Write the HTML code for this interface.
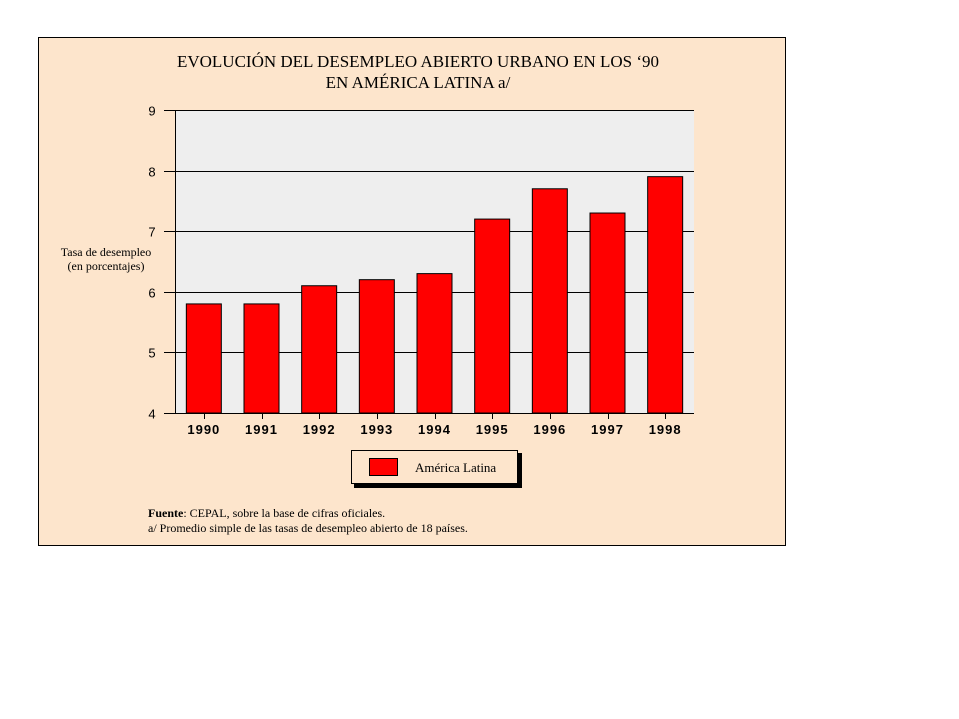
<!DOCTYPE html>
<html><head><meta charset="utf-8"><style>
body{margin:0;background:#fff;width:959px;height:719px;overflow:hidden}
svg{display:block}
</style></head><body>
<svg width="959" height="719" xmlns="http://www.w3.org/2000/svg">
<rect x="38.5" y="37.5" width="747" height="508" fill="#fde5cc" stroke="#000"/>
<text x="418" y="67" font-family="Liberation Serif, serif" font-size="17" text-anchor="middle">EVOLUCIÓN DEL DESEMPLEO ABIERTO URBANO EN LOS ‘90</text>
<text x="418" y="88" font-family="Liberation Serif, serif" font-size="17" text-anchor="middle">EN AMÉRICA LATINA a/</text>
<rect x="175" y="110" width="519" height="303" fill="#eeeeee"/>
<g id="grid"></g>
<g id="bars"></g>
<g id="xlabels"></g>
<line x1="175.5" y1="110" x2="175.5" y2="414" stroke="#000"/>
<line x1="164" y1="413.5" x2="694" y2="413.5" stroke="#000"/>
<text x="106" y="256" font-family="Liberation Serif, serif" font-size="12" text-anchor="middle">Tasa de desempleo</text>
<text x="106" y="270" font-family="Liberation Serif, serif" font-size="12" text-anchor="middle">(en porcentajes)</text>
<g>
<rect x="354" y="453" width="168" height="35" fill="#000"/>
<rect x="351.5" y="450.5" width="166" height="33" fill="#fde5cc" stroke="#000"/>
<rect x="369.5" y="458.5" width="28" height="17" fill="#ff0000" stroke="#000"/>
<text x="415" y="472" font-family="Liberation Serif, serif" font-size="13">América Latina</text>
</g>
<text x="148" y="517" font-family="Liberation Serif, serif" font-size="12"><tspan font-weight="bold">Fuente</tspan>: CEPAL, sobre la base de cifras oficiales.</text>
<text x="148" y="532" font-family="Liberation Serif, serif" font-size="12">a/ Promedio simple de las tasas de desempleo abierto de 18 países.</text>
</svg>
<script>
const categories=["1990","1991","1992","1993","1994","1995","1996","1997","1998"];
const values=[5.8,5.8,6.1,6.2,6.3,7.2,7.7,7.3,7.9];
const yTicks=[4,5,6,7,8,9];
const NS="http://www.w3.org/2000/svg";
const x0=175,x1=694,yTop=110,yBot=413,yMin=4,yMax=9;
const y=v=>yBot-(v-yMin)/(yMax-yMin)*(yBot-yTop);
const bw=(x1-x0)/categories.length;
const grid=document.getElementById('grid'),bars=document.getElementById('bars'),xl=document.getElementById('xlabels');
function mk(t,a){const e=document.createElementNS(NS,t);for(const k in a)e.setAttribute(k,a[k]);return e;}
yTicks.forEach(t=>{
 const yy=Math.round(y(t))+0.5;
 if(t>yMin){const l=mk('line',{x1:164,x2:x1,y1:yy,y2:yy,stroke:'#000'});
 
 grid.appendChild(l);}
 const tx=mk('text',{x:152,y:yy+5,'font-family':'Liberation Sans, sans-serif','font-size':13,'text-anchor':'middle'});
 tx.textContent=t;
 
 grid.appendChild(tx);
});
categories.forEach((c,i)=>{
 const cx=x0+bw*(i+0.5);
 const r=mk('rect',{x:cx-17.5,y:y(values[i]),width:35,height:yBot-y(values[i]),fill:'#ff0000',stroke:'#000'});
 
 bars.appendChild(r);
 const tk=mk('line',{x1:Math.round(cx)+0.5,x2:Math.round(cx)+0.5,y1:413,y2:419,stroke:'#000'});
 
 xl.appendChild(tk);
 const t=mk('text',{x:cx,y:434,'font-family':'Liberation Sans, sans-serif','font-size':13,'font-weight':'bold','text-anchor':'middle','letter-spacing':'1'});
 t.textContent=c;
 
 xl.appendChild(t);
});
</script>
</body></html>
